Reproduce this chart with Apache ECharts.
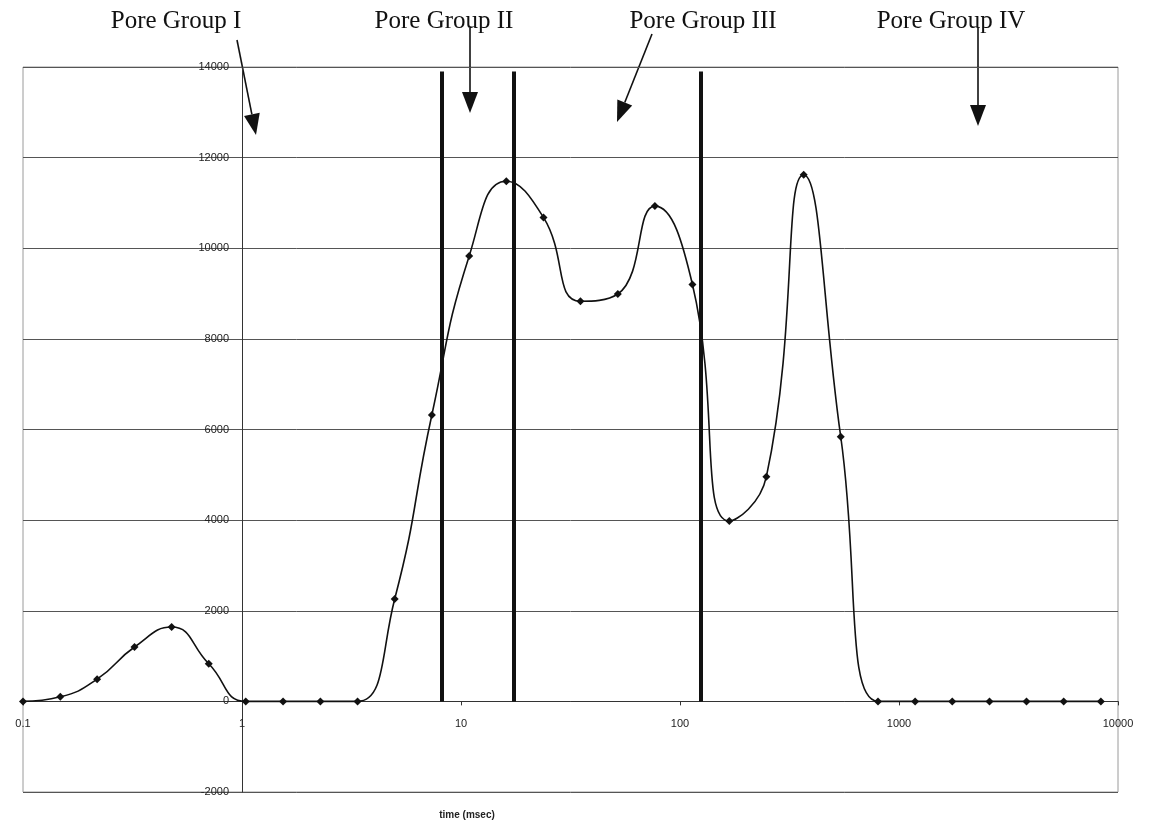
<!DOCTYPE html>
<html>
<head>
<meta charset="utf-8">
<title>Pore groups</title>
<style>
  html, body { margin: 0; padding: 0; background: #fff; }
  #chart { width: 1149px; height: 830px; }
</style>
<script src="https://cdn.jsdelivr.net/npm/echarts@6/dist/echarts.min.js"></script>
</head>
<body>
<div id="chart"></div>
<script>
// relaxation time of each sample (msec), log spaced
const times = [0.1, 0.148, 0.218, 0.323, 0.477, 0.705, 1.04, 1.54, 2.28, 3.37,
  4.98, 7.36, 10.9, 16.1, 23.8, 35.1, 52.0, 76.8, 114, 168,
  248, 367, 542, 802, 1185, 1750, 2590, 3820, 5650, 8350];
// amplitude
const amplitudes = [0, 100, 490, 1200, 1640, 830, 0, 0, 0, 0,
  2260, 6320, 9830, 11480, 10680, 8830, 8990, 10930, 9200, 3980,
  4960, 11620, 5840, 0, 0, 0, 0, 0, 0, 0];
// boundaries between the pore groups (msec)
const cutoffs = [8.15, 17.5, 125];
const cutoffTop = 13900;
const groupNames = ['Pore Group I', 'Pore Group II', 'Pore Group III', 'Pore Group IV'];
const yMin = -2000, yMax = 14000, yStep = 2000;

const W = 1149, H = 830;
const grid = { left: 23, right: 31, top: 67, bottom: 38 };
const plotW = W - grid.left - grid.right;
const plotH = H - grid.top - grid.bottom;

// label centres and arrows (pixel annotations above the plot)
const groupX = [176, 444, 703, 951];
const arrows = [
  [237, 40, 256, 135],
  [470, 28, 470, 113],
  [652, 34, 617, 122],
  [978, 28, 978, 126]
];

function arrow(x1, y1, x2, y2) {
  const len = Math.hypot(x2 - x1, y2 - y1);
  const ux = (x2 - x1) / len, uy = (y2 - y1) / len;
  const hl = 21, hw = 8;
  const bx = x2 - ux * hl, by = y2 - uy * hl;
  return [
    { type: 'line', shape: { x1: x1, y1: y1, x2: bx, y2: by },
      style: { stroke: '#111', lineWidth: 1.6 }, silent: true },
    { type: 'polygon', shape: { points: [[x2, y2], [bx - uy * hw, by + ux * hw], [bx + uy * hw, by - ux * hw]] },
      style: { fill: '#111' }, silent: true }
  ];
}

const graphics = [];
groupNames.forEach(function (name, i) {
  graphics.push({
    type: 'text', x: groupX[i], y: 21, silent: true,
    style: { text: name, fill: '#111', font: '25px "Liberation Serif", "DejaVu Serif", serif',
      align: 'center', verticalAlign: 'middle' }
  });
});
arrows.forEach(function (a) { graphics.push.apply(graphics, arrow(a[0], a[1], a[2], a[3])); });
graphics.push({
  type: 'text', x: 467, y: 815, silent: true,
  style: { text: 'time (msec)', fill: '#222', font: 'bold 10px "Liberation Sans", Arial, sans-serif',
    align: 'center', verticalAlign: 'middle' }
});

const chart = echarts.init(document.getElementById('chart'), null, { renderer: 'canvas' });

const option = {
  animation: false,
  backgroundColor: '#ffffff',
  grid: {
    left: grid.left, right: grid.right, top: grid.top, bottom: grid.bottom,
    show: true, borderColor: '#9a9a9a', borderWidth: 1, backgroundColor: 'transparent'
  },
  xAxis: {
    type: 'log',
    logBase: 10,
    min: 0.1,
    max: 10000,
    position: 'bottom',
    offset: -plotH * (0 - yMin) / (yMax - yMin),   // axis sits on y = 0
    axisLine: { onZero: false, lineStyle: { color: '#333', width: 1 } },
    axisTick: { show: true, length: 4, lineStyle: { color: '#333' } },
    minorTick: { show: false },
    splitLine: { show: false },
    axisLabel: {
      color: '#222', fontSize: 11, margin: 17,
      fontFamily: '"Liberation Sans", Arial, sans-serif',
      showMinLabel: true, showMaxLabel: true,
      formatter: function (v) { return String(v); }
    }
  },
  yAxis: {
    type: 'value',
    min: yMin,
    max: yMax,
    interval: yStep,
    position: 'left',
    offset: -plotW / 5,   // axis crosses at x = 1
    axisLine: { show: true, onZero: false, lineStyle: { color: '#333', width: 1 } },
    axisTick: { show: false },
    splitLine: { show: true, lineStyle: { color: '#555', width: 1 } },
    axisLabel: {
      color: '#222', fontSize: 11, margin: 13,
      fontFamily: '"Liberation Sans", Arial, sans-serif',
      formatter: function (v) { return String(v); }
    }
  },
  series: [{
    type: 'line',
    data: times.map(function (t, i) { return [t, amplitudes[i]]; }),
    smooth: 0.5,
    symbol: 'diamond',
    symbolSize: 8,
    itemStyle: { color: '#111' },
    lineStyle: { color: '#111', width: 1.6 },
    clip: false,
    markLine: {
      silent: true,
      symbol: ['none', 'none'],
      label: { show: false },
      lineStyle: { color: '#111', width: 4, type: 'solid' },
      emphasis: { disabled: true },
      data: cutoffs.map(function (c) {
        return [{ coord: [c, 0] }, { coord: [c, cutoffTop] }];
      })
    }
  }],
  graphic: graphics
};

chart.setOption(option);
</script>
</body>
</html>
